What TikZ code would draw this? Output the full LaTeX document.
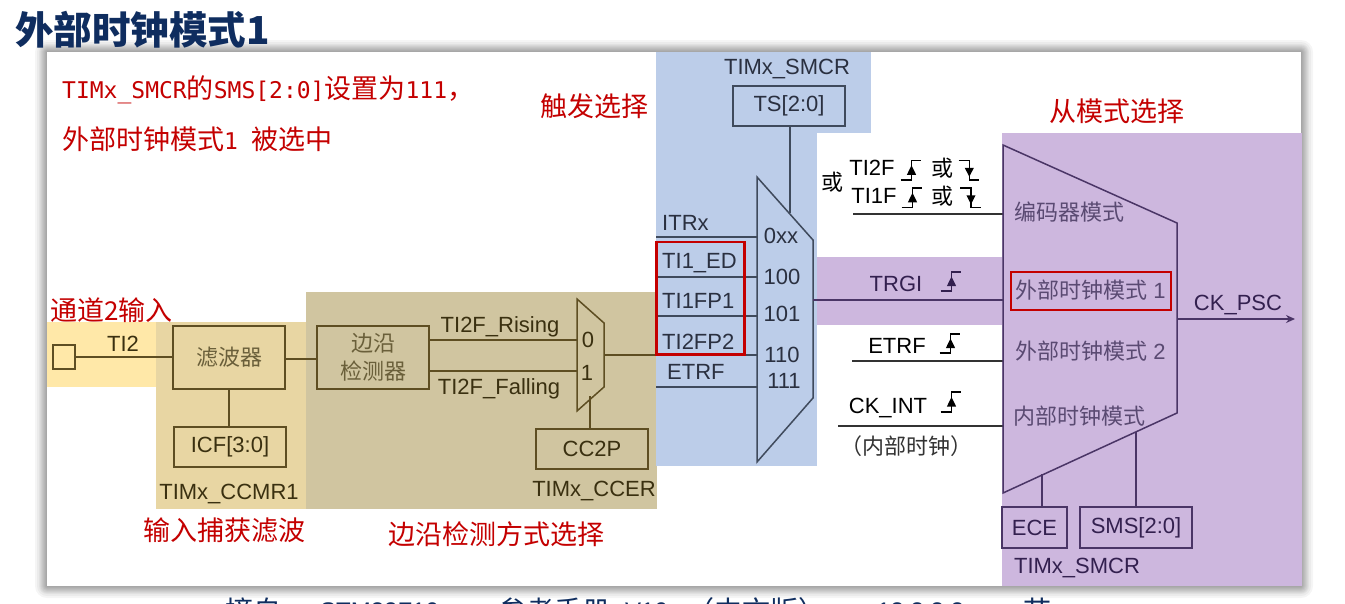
\documentclass[tikz,border=0pt]{standalone}
\usepackage{fontspec}
\setmainfont{Liberation Sans}
\newfontfamily\cjk{Noto Sans CJK SC}
\newfontfamily\monofam{DejaVu Sans Mono}
\usetikzlibrary{arrows.meta}
\definecolor{cpurple}{HTML}{CDB7DE}
\definecolor{cblue}{HTML}{BCCDE9}
\definecolor{ctan}{HTML}{D0C5A0}
\definecolor{clight}{HTML}{E8D6A3}
\definecolor{cyellow}{HTML}{FFE8A8}
\definecolor{cred}{HTML}{C40000}
\definecolor{cnavy}{HTML}{0F2D5F}
\definecolor{ltan}{HTML}{5E4E22}
\definecolor{lblue}{HTML}{3F4A5C}
\definecolor{lpurple}{HTML}{4A3566}
\definecolor{lblack}{HTML}{333333}
\definecolor{ttan}{HTML}{3A3010}
\definecolor{tblue}{HTML}{2A3040}
\definecolor{tpurple}{HTML}{33204F}
\definecolor{ztan}{HTML}{6A5F3A}
\definecolor{zpurple}{HTML}{5A4A72}
\newcommand{\sz}[1]{\fontsize{#1}{#1}\selectfont}
\newcommand{\dn}[1]{\raisebox{-2pt}{#1}}
% rising edge glyph: x1 x2 x3 ybottom ytop colour
\newcommand{\edgeup}[6]{%
  \draw[#6,line width=1.1pt] (#1,#4) -- (#2,#4) -- (#2,#5) -- (#3,#5);
  \fill[#6] ({#2-4.6},{(#4+#5)/2+4.5}) -- ({#2+4.6},{(#4+#5)/2+4.5}) -- (#2,{(#4+#5)/2-5}) -- cycle;}
\newcommand{\edgedown}[6]{%
  \draw[#6,line width=1.1pt] (#1,#5) -- (#2,#5) -- (#2,#4) -- (#3,#4);
  \fill[#6] ({#2-4.6},{(#4+#5)/2-2.5}) -- ({#2+4.6},{(#4+#5)/2-2.5}) -- (#2,{(#4+#5)/2+6.5}) -- cycle;}
\tikzset{
  lab/.style={inner sep=0pt,font=\sz{22}},
  zh/.style={inner sep=0pt,font=\cjk\sz{22}},
  redzh/.style={inner sep=0pt,text=cred,font=\cjk\sz{27}},
  regbox/.style={draw,line width=1.5pt,inner sep=0pt,font=\sz{22}},
  wire/.style={line width=1.5pt},
  redbox/.style={draw=cred,line width=2.6pt},
  capzh/.style={anchor=base west,inner sep=0pt,text=cnavy,font=\cjk\sz{28}},
  capla/.style={anchor=base west,inner sep=0pt,text=cnavy,font=\sz{24}}
}
\begin{document}
\begin{tikzpicture}[x=1pt,y=-1pt]
\useasboundingbox (0,0) rectangle (1345,603);
\fill[white] (0,0) rectangle (1345,603);
% sheet shadow and sheet
\foreach \i in {1,2,3,4,5,6,7,8,10,12}{
  \fill[black,opacity=.04,rounded corners=\i pt] ({47-\i},{52-\i}) rectangle ({1301+\i},{586+\i});
}
\fill[white] (47,52) rectangle (1301,586);
% coloured zones
\fill[cyellow] (47,322) rectangle (156,387);
\fill[clight] (156,322) rectangle (306,509);
\fill[ctan] (306,292) rectangle (657,509);
\fill[cblue] (656,52) rectangle (871,133);
\fill[cblue] (656,133) rectangle (817,466);
\fill[cpurple] (817,257) rectangle (1002,325);
\fill[cpurple] (1002,133) rectangle (1302,586);

% title and red notes
\node[anchor=west,inner sep=0pt,text=cnavy,font=\cjk\bfseries\sz{38.5}] (title) at (15,30) {外部时钟模式1};
\node[anchor=west,inner sep=0pt,text=cred,font=\monofam\sz{23}] (note1) at (62,90) {TIMx\_SMCR{\cjk\sz{27}的}SMS[2:0]{\cjk\sz{27}设置为}111{\cjk\sz{27}，}};
\node[anchor=west,inner sep=0pt,text=cred,font=\cjk\sz{27}] (note2) at (62,139) {外部时钟模式{\monofam\sz{23}1 }被选中};
\node[redzh,anchor=west] (tchan) at (50,310) {通道{\sz{26}2}输入};
\node[redzh] (tcap) at (224,530) {输入捕获滤波};
\node[redzh] (tedge) at (496,534) {边沿检测方式选择};
\node[redzh] (ttrig) at (594,106) {触发选择};
\node[redzh] (tslave) at (1117,111) {从模式选择};

% input and filter stage
\node[draw=ltan,line width=1.5pt,minimum width=22pt,minimum height=24pt,inner sep=0pt] (pin) at (64,357) {};
\node[regbox,draw=ltan,minimum width=112pt,minimum height=63pt,text=ztan,font=\cjk\sz{22}] (filt) at (229,357.5) {滤波器};
\node[regbox,draw=ltan,minimum width=112pt,minimum height=40pt,text=ttan] (icf) at (230,447) {\dn{ICF[3:0]}};
\node[regbox,draw=ltan,minimum width=112pt,minimum height=63pt,text=ztan,font=\cjk\sz{22},align=center] (edge) at (373,357.5) {边沿\\[6pt]检测器};
\node[regbox,draw=ltan,minimum width=112pt,minimum height=40pt,text=ttan] (cctp) at (592,449) {\dn{CC2P}};
\node[lab,text=ttan] (lti) at (123,344) {TI2};
\node[lab,text=ttan] (lrise) at (500,327) {TI2F\_Rising};
\node[lab,text=ttan] (lfall) at (499,389) {TI2F\_Falling};
\node[lab,text=ttan] (lzero) at (588,340) {0};
\node[lab,text=ttan] (lone) at (587,373) {1};
\node[lab,text=ttan] (lccmr) at (229,494) {TIMx\_CCMR1};
\node[lab,text=ttan] (lccer) at (594,491) {TIMx\_CCER};
\coordinate (smw1) at (577,340);
\coordinate (smw2) at (577,371);
\coordinate (sme) at (604,355);
\coordinate (smb) at (590,396);
\coordinate (ed1) at (429,340);
\coordinate (ed2) at (429,371);
\draw[ltan,wire] (577,299) -- (604,323) -- (604,387) -- (577,411) -- cycle;
\draw[ltan,wire] (pin.east) -- (filt.west |- pin.east);
\draw[ltan,wire] (filt.east |- 0,359) -- (edge.west |- 0,359);
\draw[ltan,wire] (filt.south) -- (filt.south |- icf.north);
\draw[ltan,wire] (ed1) -- (smw1);
\draw[ltan,wire] (ed2) -- (smw2);
\draw[ltan,wire] (smb) -- (smb |- cctp.north);

% trigger selector
\node[lab,text=tblue] (lsmcr1) at (787,69) {TIMx\_SMCR};
\node[regbox,draw=lblue,minimum width=112pt,minimum height=40pt,text=tblue] (ts) at (789,106) {\dn{TS[2:0]}};
\coordinate (mtop) at (790,213);
\coordinate (mw1) at (757,237);
\coordinate (mw2) at (757,277);
\coordinate (mw3) at (757,316);
\coordinate (mw4) at (757,355);
\coordinate (mw5) at (757,387);
\coordinate (me) at (813,300);
\coordinate (sl1) at (656,237);
\coordinate (sl2) at (656,277);
\coordinate (sl3) at (656,316);
\coordinate (sl5) at (656,387);
\draw[lblue,wire] (757,177) -- (813,240) -- (813,398) -- (757,462) -- cycle;
\draw[lblue,wire] (ts.south -| mtop) -- (mtop);
\draw[lblue,wire] (sl1) -- (mw1);
\draw[lblue,wire] (sl2) -- (mw2);
\draw[lblue,wire] (sl3) -- (mw3);
\draw[lblue,wire] (sl5) -- (mw5);
\draw[ltan,wire] (sme) -- (656,355);
\draw[lblue,wire] (656,355) -- (mw4);
\node[lab,anchor=west,text=tblue] (litr) at (662,223) {ITRx};
\node[lab,anchor=west,text=tblue] (lted) at (662,263) {TI1\_ED};
\node[lab,anchor=west,text=tblue] (ltf1) at (662,301) {TI1FP1};
\node[lab,anchor=west,text=tblue] (ltf2) at (662,342) {TI2FP2};
\node[lab,anchor=west,text=tblue] (letr) at (667,372) {ETRF};
\node[lab,text=tblue] (p0) at (781,236) {0xx};
\node[lab,text=tblue] (p1) at (782,277) {100};
\node[lab,text=tblue] (p2) at (782,314) {101};
\node[lab,text=tblue] (p3) at (782,355) {110};
\node[lab,text=tblue] (p4) at (784,381) {111};
\draw[redbox] (656.5,242) rectangle (744.5,354.5);

% trigger inputs
\node[zh,text=black] (lor) at (832,182) {或};
\node[lab,text=black] (l2f) at (872,168) {TI2F};
\node[lab,text=black] (l1f) at (874,196) {TI1F};
\node[zh,text=black] (lor1) at (942,168) {或};
\node[zh,text=black] (lor2) at (942,196) {或};
\edgeup{900.5}{911.5}{920.5}{180}{160.5}{black}
\edgedown{958.7}{969.3}{979}{180}{160.5}{black}
\edgeup{901.5}{912.5}{921.5}{207.5}{188}{black}
\edgedown{960}{971}{980.5}{207.5}{188}{black}
\node[lab,text=tpurple] (ltrg) at (896,284) {TRGI};
\edgeup{940.5}{951.5}{961}{291}{272}{tpurple}
\node[lab,text=black] (letf) at (897,346) {ETRF};
\edgeup{939.5}{950.5}{960}{353}{334}{black}
\node[lab,text=black] (lck) at (888,408) {CK\_INT};
\edgeup{940.5}{951.5}{961}{412}{392}{black}
\node[zh,text=lblack] (lint) at (906,446) {（内部时钟）};

% slave mode selector
\coordinate (sw1) at (853,214);
\coordinate (sw1e) at (1003,214);
\coordinate (sw3) at (852,361);
\coordinate (sw3e) at (1003,361);
\coordinate (sw4) at (838,426);
\coordinate (sw4e) at (1003,426);
\coordinate (swt) at (1003,300);
\coordinate (soe) at (1177,319);
\coordinate (soa) at (1295,319);
\coordinate (sbl) at (1042,474);
\coordinate (sbr) at (1136,432);
\draw[lblack,wire] (sw1) -- (sw1e);
\draw[lblack,wire] (sw3) -- (sw3e);
\draw[lblack,wire] (sw4) -- (sw4e);
\draw[lpurple,wire] (me) -- (swt);
\draw[lpurple,wire] (1003,145) -- (1177,223) -- (1177,413) -- (1003,493) -- cycle;
\draw[lpurple,wire,-{Stealth[length=9pt,width=8pt]}] (soe) -- (soa);
\node[regbox,draw=lpurple,minimum width=65pt,minimum height=41pt,text=tpurple] (ece) at (1034.5,527.5) {ECE};
\node[regbox,draw=lpurple,minimum width=112pt,minimum height=41pt,text=tpurple] (sms) at (1136,527.5) {\dn{SMS[2:0]}};
\draw[lpurple,wire] (sbl) -- (sbl |- ece.north);
\draw[lpurple,wire] (sbr) -- (sms.north);
\node[lab,text=tpurple] (lsmcr2) at (1077,568) {TIMx\_SMCR};
\node[lab,text=tpurple] (lpsc) at (1238,305) {CK\_PSC};
\node[zh,anchor=west,text=zpurple] (m0) at (1014,212) {编码器模式};
\node[zh,anchor=west,text=zpurple] (m1) at (1015,290) {外部时钟模式{\rmfamily\ 1}};
\node[zh,anchor=west,text=zpurple] (m2) at (1015,351) {外部时钟模式{\rmfamily\ 2}};
\node[zh,anchor=west,text=zpurple] (m3) at (1013,416) {内部时钟模式};
\draw[redbox] (1011,272) rectangle (1171,310);

% cut-off caption
\begin{scope}
\clip (0,587) rectangle (1345,603);
\node[capzh] (cap1) at (225,621) {摘自};
\node[capla] (cap2) at (320,619) {STM32F10x};
\node[capzh] (cap3) at (498,621) {参考手册};
\node[capla] (cap4) at (625,619) {V10};
\node[capzh] (cap5) at (686,621) {（中文版）};
\node[capla] (cap6) at (877,619) {13.3.3.2};
\node[capzh] (cap7) at (1023,621) {节};
\end{scope}
\end{tikzpicture}
\end{document}
